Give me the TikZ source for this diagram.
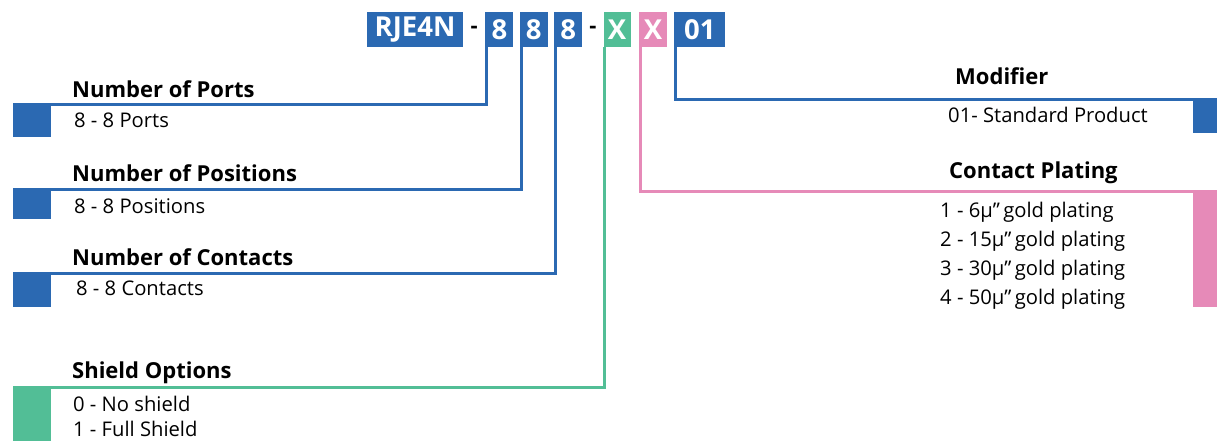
\documentclass[tikz,border=0pt]{standalone}
\usepackage{fontspec}
\setmainfont{Open Sans}
\usepackage{tikz}
\usetikzlibrary{positioning, calc}
\definecolor{codeblue}{RGB}{43,105,178}
\definecolor{codegreen}{RGB}{82,190,150}
\definecolor{codepink}{RGB}{230,138,184}
\tikzset{
  codebox/.style={rectangle, fill=#1, text=white, inner sep=0pt,
    minimum height=35pt, font=\bfseries\fontsize{27.5}{27.5}\selectfont},
  link/.style={line width=3pt, color=#1},
  mark box/.style={rectangle, fill=#1, inner sep=0pt},
  title/.style={anchor=base west, inner sep=0pt, font=\bfseries\fontsize{22}{22}\selectfont},
  option/.style={anchor=base west, inner sep=0pt, font=\fontsize{20.2}{20.2}\selectfont}
}
\begin{document}
\begin{tikzpicture}[x=1pt, y=-1pt]
  \useasboundingbox (0,0) rectangle (1217,441);
  % part number
  \node [codebox=codeblue, minimum width=96pt] (rje) at (415,29.5) {RJE4N};
  \node [codebox=codeblue, minimum width=28pt, right=22pt of rje] (ports) {8};
  \node [codebox=codeblue, minimum width=28pt, right=6pt of ports] (posn) {8};
  \node [codebox=codeblue, minimum width=28pt, right=6pt of posn] (cont) {8};
  \node [codebox=codegreen, minimum width=27pt, right=21pt of cont] (shield) {X};
  \node [codebox=codepink, minimum width=28pt, right=8pt of shield] (plating) {X};
  \node [codebox=codeblue, minimum width=51pt, right=7pt of plating] (mod) {01};
  \node [font=\bfseries\fontsize{22}{22}\selectfont, inner sep=0pt] (dasha) at ($(rje.east)!0.5!(ports.west)$) {-};
  \node [font=\bfseries\fontsize{22}{22}\selectfont, inner sep=0pt] (dashb) at ($(cont.east)!0.5!(shield.west)$) {-};

  % left side
  \node [mark box=codeblue, minimum width=38pt, minimum height=32pt, anchor=north west] (sqports) at (13,105) {};
  \node [mark box=codeblue, minimum width=38pt, minimum height=30pt, anchor=north west] (sqposn) at (13,189) {};
  \node [mark box=codeblue, minimum width=38pt, minimum height=34pt, anchor=north west] (sqcont) at (13,273) {};
  \node [mark box=codegreen, minimum width=38pt, minimum height=55pt, anchor=north west] (sqshield) at (13,387) {};

  \node [title] (tports) at (72,98) {Number of Ports};
  \node [option] (oports) at (74,128) {8 - 8 Ports};
  \node [title] (tposn) at (72,181) {Number of Positions};
  \node [option] (oposn) at (74,213) {8 - 8 Positions};
  \node [title] (tcont) at (72,265) {Number of Contacts};
  \node [option] (ocont) at (76,295) {8 - 8 Contacts};
  \node [title] (tshield) at (72,378) {Shield Options};
  \node [option] (oshielda) at (73,411) {0 - No shield};
  \node [option] (oshieldb) at (73,436) {1 - Full Shield};

  % right side
  \node [mark box=codeblue, minimum width=24pt, minimum height=33pt, anchor=north east] (sqmod) at (1217,100) {};
  \node [mark box=codepink, minimum width=24pt, minimum height=116pt, anchor=north east] (sqplating) at (1217,191) {};

  \node [title] (tmod) at (955,85) {Modifier};
  \node [option] (omod) at (948,123) {01- Standard Product};
  \node [title] (tplating) at (949,178) {Contact Plating};
  \foreach \thick [count=\i] in {6,15,30,50}
    \node [option] (oplating\i) at (940,{188+29*\i}) {\i{} - \thick µ\textquotedblright\,gold plating};

  % connectors
  \draw [link=codeblue] ([xshift=1.5pt]ports.south west) |- (sqports.north west);
  \draw [link=codeblue] ([xshift=1.5pt]posn.south west) |- (sqposn.north west);
  \draw [link=codeblue] ([xshift=1.5pt]cont.south west) |- (sqcont.north west);
  \draw [link=codegreen] ([xshift=1.5pt]shield.south west) |- (sqshield.north west);
  \draw [link=codepink] ([xshift=1.5pt]plating.south west) |- (sqplating.north east);
  \draw [link=codeblue] ([xshift=1.5pt]mod.south west) |- (sqmod.north east);
\end{tikzpicture}
\end{document}
